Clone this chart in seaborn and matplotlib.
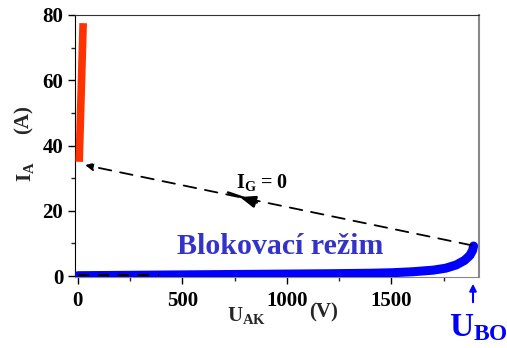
import numpy as np
import pandas as pd
import matplotlib
matplotlib.use("Agg")
import matplotlib.pyplot as plt
from matplotlib.ticker import MultipleLocator
import seaborn as sns

# Off-state (blocking) characteristic, I_G = 0
u_block = [0, 200, 400, 600, 800, 1000, 1200, 1400, 1500, 1600, 1700,
           1760, 1810, 1850, 1875, 1888, 1893]
i_block = [0.1, 0.2, 0.3, 0.4, 0.5, 0.6, 0.7, 0.85, 1.0, 1.3, 1.8,
           2.4, 3.4, 4.8, 6.3, 7.8, 9.2]

# On-state branch
u_on = [6, 25]
i_on = [35, 77.5]

# Switching path from breakover to the on-state
u_switch = [1885, 35]
i_switch = [9.4, 34]

# Low-current return segment
u_ret = [0, 390]
i_ret = [0.3, 0.3]

x_ticks = [0, 500, 1000, 1500]
y_ticks = [0, 20, 40, 60, 80]

sns.set_style("ticks")
plt.rcParams["font.family"] = ["Liberation Serif", "DejaVu Serif"]
plt.rcParams["font.weight"] = "bold"
plt.rcParams["mathtext.fontset"] = "custom"
plt.rcParams["mathtext.rm"] = "Liberation Serif:bold"
plt.rcParams["mathtext.it"] = "Liberation Serif:bold"
plt.rcParams["mathtext.bf"] = "Liberation Serif:bold"

fig = plt.figure(figsize=(5.07, 3.48), dpi=100)
ax = fig.add_axes([75 / 507, 1 - 277 / 348, (479 - 75) / 507, (277 - 15) / 348])

blue = "#0000ff"
red = "#ff3300"

df_block = pd.DataFrame({"U": u_block, "I": i_block})
df_on = pd.DataFrame({"U": u_on, "I": i_on})

sns.lineplot(data=df_block, x="U", y="I", ax=ax, color=blue, lw=6.5,
             sort=False, solid_capstyle="round", zorder=3)
sns.lineplot(data=df_on, x="U", y="I", ax=ax, color=red, lw=5.5,
             sort=False, solid_capstyle="butt", zorder=3)

ax.plot(u_ret, i_ret, color="black", lw=1.6, ls=(0, (5, 4)), zorder=4)

# dashed switching path with arrow into the on-state
ax.annotate("", xy=(u_switch[1], i_switch[1]), xytext=(u_switch[0], i_switch[0]),
            arrowprops=dict(arrowstyle="-|>", color="black", lw=1.3,
                            ls=(0, (7, 5)), mutation_scale=12,
                            shrinkA=0, shrinkB=0), zorder=4)
# direction marker on the path: short stroke with a left-pointing head
ax.plot([718, 856], [25.6, 22.6], color="black", lw=1.8, zorder=4)
ax.annotate("", xy=(775, 24.2), xytext=(856, 22.6),
            arrowprops=dict(arrowstyle="-|>,head_length=0.9,head_width=0.35",
                            color="black", lw=1.8, mutation_scale=10,
                            shrinkA=0, shrinkB=0), zorder=4)

ax.text(880, 28.6, r"$\mathrm{I_G}$ = 0", fontsize=14.5, fontweight="bold",
        ha="center", va="center", color="black")
ax.text(967, 9.2, "Blokovací režim", fontsize=21.5, fontweight="bold",
        ha="center", va="center", color="#3333cc")

ax.set_xlim(-14, 1919)
ax.set_ylim(-0.3, 80)
ax.set_xticks(x_ticks)
ax.set_yticks(y_ticks)
ax.xaxis.set_minor_locator(MultipleLocator(250))
ax.yaxis.set_minor_locator(MultipleLocator(10))
ax.tick_params(axis="both", which="major", labelsize=15, length=5,
               width=1, direction="out", colors="black")
ax.tick_params(axis="both", which="minor", length=3, width=1, direction="out")
ax.tick_params(axis="x", pad=5)
for lab in ax.get_xticklabels() + ax.get_yticklabels():
    lab.set_fontweight("bold")

ax.set_xlabel("")
ax.set_ylabel("")
for side in ["top", "right", "left", "bottom"]:
    ax.spines[side].set_visible(True)
ax.spines["left"].set_color("black")
ax.spines["top"].set_color("#333333")
ax.spines["right"].set_color("#888888")
ax.spines["bottom"].set_color("#888888")
ax.spines["right"].set_linewidth(1.5)

# axis titles
fig.text(25 / 507, 1 - 172 / 348, r"$\mathrm{I_A}$", rotation=90,
         fontsize=15, fontweight="bold", ha="center", va="center")
fig.text(24 / 507, 1 - 120 / 348, "(A)", rotation=90,
         fontsize=15, fontweight="bold", ha="center", va="center")
fig.text(227 / 507, 1 - 315 / 348, r"$\mathrm{U_{AK}}$", fontsize=15,
         fontweight="bold", ha="left", va="center")
fig.text(309 / 507, 1 - 312 / 348, "(V)", fontsize=15, fontweight="bold",
         ha="left", va="center")

# breakover voltage marker
fig.text(449 / 507, 1 - 328 / 348, r"$\mathrm{U_{BO}}$", fontsize=24,
         fontweight="bold", ha="left", va="center", color=blue)
fig.add_artist(matplotlib.patches.FancyArrowPatch(
    (473 / 507, 1 - 305 / 348), (473 / 507, 1 - 281 / 348),
    transform=fig.transFigure, arrowstyle="-|>", mutation_scale=10,
    color=blue, lw=1.5))

fig.savefig("out.png", dpi=100)
